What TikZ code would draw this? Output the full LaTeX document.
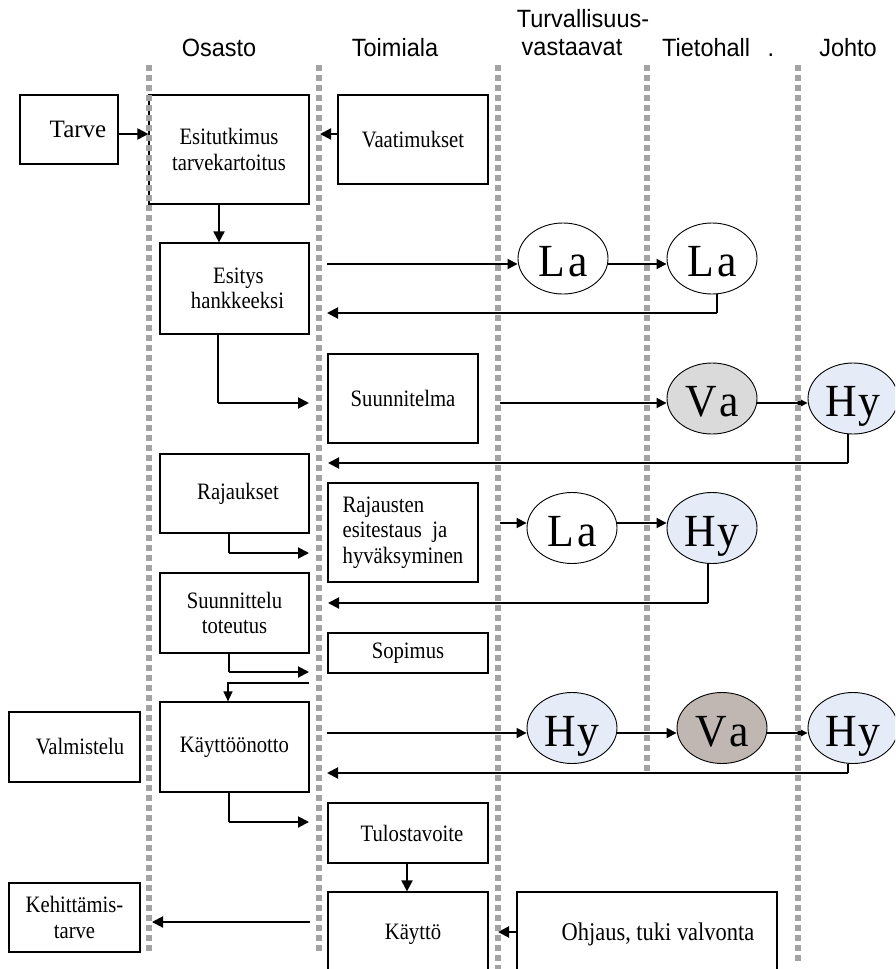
\documentclass[tikz,border=0pt]{standalone}
\usepackage{fontspec}
\setmainfont{Liberation Serif}
\newfontfamily\boxfont[FakeStretch=0.88]{Liberation Serif}
\newfontfamily\ovalfont[FakeStretch=0.95]{Liberation Serif}
\newfontfamily\hdrfont[FakeStretch=0.94]{Liberation Sans}
\usetikzlibrary{arrows.meta,shapes.geometric}
\definecolor{lanegray}{HTML}{A3A3A3}
\definecolor{hyblue}{HTML}{E5ECF7}
\definecolor{vagray}{HTML}{DADADA}
\definecolor{vabrown}{HTML}{C0B7B2}
\begin{document}
\begin{tikzpicture}[x=1pt,y=-1pt,
  hdr/.style={font=\hdrfont\fontsize{25}{28}\selectfont, inner sep=0pt},
  box/.style={draw, line width=1.2pt, inner sep=2pt, align=center, font=\boxfont\fontsize{23.5}{25.5}\selectfont},
  oval/.style={ellipse, draw, line width=0.9pt, minimum width=90pt, minimum height=71pt, inner sep=0pt, text height=36pt, text depth=0pt, font=\ovalfont\fontsize{46}{46}\selectfont},
  lane/.style={lanegray, line width=6.5pt, dash pattern=on 6pt off 4pt},
  arr/.style={line width=2pt, -{Triangle[length=11pt,width=11pt]}},
  arrs/.style={line width=1.8pt, -{Triangle[length=10pt,width=10pt]}},
  riser/.style={line width=1.1pt},
]
\useasboundingbox (0,0) rectangle (895,969);
\clip (0,0) rectangle (895,969);

% headers
\node[hdr] (hOsasto) at (219,48) {Osasto};
\node[hdr] (hToim) at (395,48) {Toimiala};
\node[hdr] (hTurv) at (583,19) {Turvallisuus-};
\node[hdr] (hVast) at (572,48) {vastaavat};
\node[hdr, anchor=west] (hTieto) at (662,48) {Tietohall\hspace{0.7em}.};
\node[hdr] (hJohto) at (848,48) {Johto};

% boxes
\node[box, minimum width=98pt, minimum height=69pt, font=\fontsize{25}{27}\selectfont] (tarve) at (69,129.5) {\hspace*{18pt}Tarve};
\node[box, minimum width=160pt, minimum height=109pt] (esit) at (229,149.5) {Esitutkimus\\tarvekartoitus};
\node[box, minimum width=150pt, minimum height=89pt] (vaat) at (413,139.5) {Vaatimukset};
\node[box, minimum width=149pt, minimum height=91pt] (esitys) at (234.5,288.5) {\hspace*{8pt}Esitys\\\hspace*{6pt}hankkeeksi};
\node[box, minimum width=150pt, minimum height=89pt] (suun) at (403,398.5) {Suunnitelma};
\node[box, minimum width=149pt, minimum height=79pt] (raj) at (234.5,493.5) {\hspace*{7pt}Rajaukset};
\node[box, minimum width=150pt, minimum height=99pt, align=left] (rajes) at (403,532.5) {Rajausten\\esitestaus\ \ ja\\hyväksyminen};
\node[box, minimum width=149pt, minimum height=80pt] (suunt) at (234.5,613) {Suunnittelu\\toteutus};
\node[box, minimum width=160pt, minimum height=40pt] (sop) at (408,653) {Sopimus};
\node[box, minimum width=149pt, minimum height=90pt] (kayo) at (234.5,747) {Käyttöönotto};
\node[box, minimum width=131pt, minimum height=70pt] (valm) at (74.5,747) {\hspace*{11pt}Valmistelu};
\node[box, minimum width=160pt, minimum height=60pt] (tulo) at (408,833) {\hspace*{8pt}Tulostavoite};
\node[box, minimum width=160pt, minimum height=84pt] (kaytto) at (408,934) {\hspace*{10pt}Käyttö};
\node[box, minimum width=260pt, minimum height=84pt, font=\boxfont\fontsize{25.5}{27}\selectfont] (ohj) at (647,934) {\hspace*{22pt}Ohjaus, tuki valvonta};
\node[box, minimum width=131pt, minimum height=69pt] (keh) at (74.5,917.5) {Kehittämis-\\tarve};

% ellipses
\node[oval] (la1) at (563,258.5) {L\kern3pt a};
\node[oval] (la2) at (712,258.5) {L\kern3pt a};
\node[oval, fill=vagray] (va1) at (712,398.5) {V\kern2pt a};
\node[oval, fill=hyblue] (hy1) at (853,398.5) {H\kern1pt y};
\node[oval] (la3) at (572,528) {L\kern3pt a};
\node[oval, fill=hyblue] (hy2) at (712,528) {H\kern1pt y};
\node[oval, fill=hyblue] (hy3) at (572,728) {H\kern1pt y};
\node[oval, fill=vabrown] (va2) at (722,728) {V\kern2pt a};
\node[oval, fill=hyblue] (hy4) at (853,728) {H\kern1pt y};

% helper coordinates
\coordinate (h134) at (0,134);
\coordinate (h264) at (0,264);
\coordinate (h403) at (0,403);
\coordinate (h523) at (0,523);
\coordinate (h733) at (0,733);
\coordinate (h932) at (0,932);

% connectors
\draw[arr] (tarve.east |- h134) -- (esit.west |- h134);
\coordinate (vaatEnd) at (320,134);
\draw[arr] (vaat.west |- h134) -- (vaatEnd);
\coordinate (c3) at (219,0);
\draw[arr] (c3 |- esit.south) -- (c3 |- esitys.north);

\coordinate (esR) at (327,264);
\draw[arrs] (esR) -- (la1.west |- h264);
\draw[arrs] (la1.east |- h264) -- (la2.west |- h264);
\coordinate (r1c) at (717,313);
\coordinate (r1e) at (327,313);
\draw[riser] (r1c |- la2.south) -- (r1c);
\draw[arr] (r1c) -- (r1e);

\coordinate (e2c) at (218,403);
\coordinate (e2e) at (309,403);
\draw[riser] (e2c |- esitys.south) -- (e2c);
\draw[arr] (e2c) -- (e2e);

\coordinate (s1) at (500,403);
\draw[arrs] (s1) -- (va1.west |- h403);
\draw[arrs] (va1.east |- h403) -- (hy1.west |- h403);
\coordinate (r2c) at (848,463);
\coordinate (r2e) at (328,463);
\draw[riser] (r2c |- hy1.south) -- (r2c);
\draw[arr] (r2c) -- (r2e);

\coordinate (e3c) at (229,553);
\coordinate (e3e) at (309,553);
\draw[riser] (e3c |- raj.south) -- (e3c);
\draw[arr] (e3c) -- (e3e);

\coordinate (s2) at (500,523);
\draw[arrs] (s2) -- (la3.west |- h523);
\draw[arrs] (la3.east |- h523) -- (hy2.west |- h523);
\coordinate (r3c) at (708,603);
\coordinate (r3e) at (328,603);
\draw[riser] (r3c |- hy2.south) -- (r3c);
\draw[arr] (r3c) -- (r3e);

\coordinate (e4c) at (229,672);
\coordinate (e4e) at (309,672);
\draw[riser] (e4c |- suunt.south) -- (e4c);
\draw[arr] (e4c) -- (e4e);

\coordinate (k1s) at (309,683);
\coordinate (k1c) at (228,683);
\draw[line width=1.3pt, -{Triangle[length=10pt,width=9pt]}] (k1s) -- (k1c) -- (k1c |- kayo.north);

\coordinate (k2s) at (327,733);
\draw[arrs] (k2s) -- (hy3.west |- h733);
\draw[arrs] (hy3.east |- h733) -- (va2.west |- h733);
\draw[arrs] (va2.east |- h733) -- (hy4.west |- h733);
\coordinate (r4c) at (848,773);
\coordinate (r4e) at (327,773);
\draw[riser] (r4c |- hy4.south) -- (r4c);
\draw[arr] (r4c) -- (r4e);

\coordinate (e5c) at (229,822);
\coordinate (e5e) at (309,822);
\draw[riser] (e5c |- kayo.south) -- (e5c);
\draw[arr] (e5c) -- (e5e);

\coordinate (t1) at (407,0);
\draw[arr] (t1 |- tulo.south) -- (t1 |- kaytto.north);

\coordinate (k3s) at (310,922);
\coordinate (k3e) at (152,922);
\draw[arr] (k3s) -- (k3e);

\coordinate (o1e) at (498,932);
\draw[arr] (ohj.west |- h932) -- (o1e);

% swim lanes
\draw[lane] (149,65) -- (149,952);
\draw[lane] (319,65) -- (319,952);
\draw[lane] (498,65) -- (498,969);
\draw[lane] (647,65) -- (647,772);
\draw[lane] (798,65) -- (798,962);
\end{tikzpicture}
\end{document}
